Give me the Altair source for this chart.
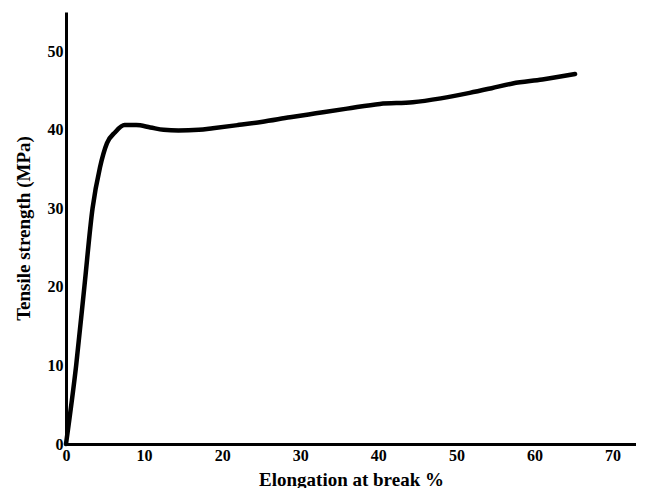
import altair as alt
import pandas as pd

elongation = [0, 1.3, 2.35, 3.4, 4.35, 5.25, 6.3, 7.5, 9.0, 10.8, 12.5, 14.4, 17.0, 18.8, 22.0, 25.0, 28.7, 32.0, 36.0, 40.2, 44.4, 48.0, 51.7, 54.5, 57.2, 61.0, 65.2]
strength = [0, 10.0, 20.0, 30.0, 35.2, 38.3, 39.7, 40.6, 40.6, 40.3, 40.0, 39.9, 40.0, 40.2, 40.6, 41.0, 41.6, 42.1, 42.7, 43.3, 43.5, 44.0, 44.7, 45.3, 45.9, 46.4, 47.1]

df = pd.DataFrame({"x": elongation, "y": strength})

font = "Liberation Serif"

chart = alt.Chart(df).mark_line(color="black", strokeWidth=4.5, interpolate="monotone", strokeCap="round").encode(
    x=alt.X("x:Q", scale=alt.Scale(domain=[0, 73], nice=False),
            axis=alt.Axis(title="Elongation at break %", values=[0, 10, 20, 30, 40, 50, 60, 70],
                          grid=False, ticks=False, domainWidth=3, domainColor="black",
                          labelFont=font, labelFontWeight="bold", labelFontSize=16, labelColor="black",
                          labelPadding=3, titleFont=font, titleFontWeight="bold", titleFontSize=19,
                          titleColor="black", titlePadding=7, labelFlush=False)),
    y=alt.Y("y:Q", scale=alt.Scale(domain=[0, 55], nice=False),
            axis=alt.Axis(title="Tensile strength (MPa)", values=[0, 10, 20, 30, 40, 50],
                          grid=False, ticks=False, domainWidth=3, domainColor="black",
                          labelFont=font, labelFontWeight="bold", labelFontSize=16, labelColor="black",
                          labelPadding=3, titleFont=font, titleFontWeight="bold", titleFontSize=19,
                          titleColor="black", titlePadding=14, labelFlush=False)),
).properties(
    width=570, height=432,
    autosize=alt.AutoSizeParams(type="none"),
    padding={"left": 58, "top": 4, "right": 0, "bottom": 44},
).configure_view(stroke=None)

chart.save("out.html", embed_options={"renderer": "svg", "actions": False})
